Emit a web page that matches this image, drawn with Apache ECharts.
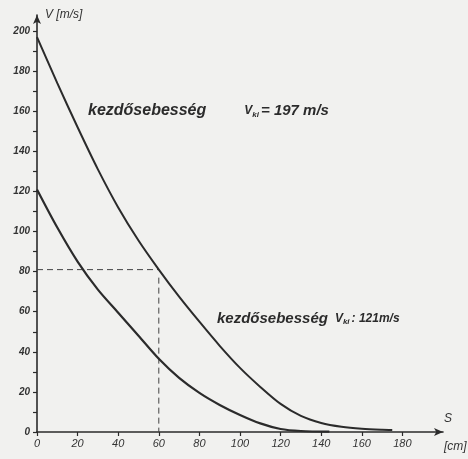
<!DOCTYPE html>
<html>
<head>
<meta charset="utf-8">
<script src="https://cdn.jsdelivr.net/npm/echarts@6/dist/echarts.min.js"></script>
<style>
  html, body { margin: 0; padding: 0; background: #f1f1ef; }
  #chart { width: 468px; height: 459px; }
</style>
</head>
<body>
<div id="chart"></div>
<script>
// distance along the path, cm
const sUpper = [0, 10, 20, 30, 40, 50, 60, 70, 80, 90, 100, 110, 120, 130, 140, 150, 160, 170, 175];
// speed for launch velocity 197 m/s
const vUpper = [197, 174, 152, 131, 112, 95.5, 81, 67.5, 55, 43, 32, 22.5, 14, 8, 4.5, 2.6, 1.6, 1.1, 1];

const sLower = [0, 10, 20, 30, 40, 50, 60, 70, 80, 90, 100, 110, 120, 130, 144];
// speed for launch velocity 121 m/s
const vLower = [121, 102, 85, 71, 59.5, 48, 36.5, 27, 19.5, 13.5, 8.5, 4.3, 1.5, 0.5, 0.2];

// reading guide at s = 60 cm
const guideS = 60;
const guideV = 81;

const xTickLabels = [0, 20, 40, 60, 80, 100, 120, 140, 160, 180];
const yTickLabels = [0, 20, 40, 60, 80, 100, 120, 140, 160, 180, 200];
const yMinorTicks = [0, 10, 20, 30, 40, 50, 60, 70, 80, 90, 100, 110, 120, 130, 140, 150, 160, 170, 180, 190, 200];

const ink = '#2b2b2b';
const hand = '"Liberation Sans", "DejaVu Sans", sans-serif';

const pair = (xs, ys) => xs.map((x, i) => [x, ys[i]]);

const chart = echarts.init(document.getElementById('chart'), null, { renderer: 'canvas' });

const labelRich = (big, gap, tail) => ({
  a: { fill: ink, font: 'italic bold ' + big + 'px ' + hand },
  gap: { width: gap },
  v: { fill: ink, font: 'italic bold 12px ' + hand },
  s: { fill: ink, font: 'italic bold 8px ' + hand, verticalAlign: 'bottom', padding: [4, 2, 0, 0] },
  b: { fill: ink, font: 'italic bold ' + tail + 'px ' + hand }
});

chart.setOption({
  backgroundColor: '#f1f1ef',
  animation: false,
  grid: { left: 37, right: 25, top: 15, bottom: 27, containLabel: false },
  xAxis: {
    type: 'value',
    min: 0,
    max: 200,
    splitLine: { show: false },
    axisLine: { onZero: false, symbol: ['none', 'arrow'], symbolSize: [6, 9], lineStyle: { color: ink, width: 1.6 } },
    axisTick: { customValues: xTickLabels, length: 4, lineStyle: { color: ink, width: 1.2 } },
    axisLabel: {
      customValues: xTickLabels,
      color: '#333', fontSize: 11, fontStyle: 'italic', fontFamily: hand, margin: 6
    }
  },
  yAxis: {
    type: 'value',
    min: 0,
    max: 208,
    splitLine: { show: false },
    axisLine: { onZero: false, symbol: ['none', 'arrow'], symbolSize: [6, 9], lineStyle: { color: ink, width: 1.6 } },
    axisTick: { customValues: yMinorTicks, length: 4, lineStyle: { color: ink, width: 1.2 } },
    axisLabel: {
      customValues: yTickLabels,
      color: '#333', fontSize: 10, fontStyle: 'italic', fontWeight: 'bold', fontFamily: hand, margin: 7
    }
  },
  series: [
    {
      type: 'line', data: pair(sUpper, vUpper), smooth: 0.3, showSymbol: false,
      lineStyle: { color: ink, width: 2 }, z: 3
    },
    {
      type: 'line', data: pair(sLower, vLower), smooth: 0.3, showSymbol: false,
      lineStyle: { color: ink, width: 2.2 }, z: 3
    },
    {
      type: 'line', data: [[0, guideV], [guideS, guideV]], showSymbol: false,
      lineStyle: { color: '#444', width: 1, type: [6, 4] }, z: 2
    },
    {
      type: 'line', data: [[guideS, guideV - 4], [guideS, 0]], showSymbol: false,
      lineStyle: { color: '#444', width: 1, type: [6, 4] }, z: 2
    }
  ],
  graphic: [
    {
      type: 'text', left: 45, top: 9,
      style: { text: 'V [m/s]', fill: '#333', font: 'italic 12px ' + hand }
    },
    {
      type: 'text', left: 444, top: 413,
      style: { text: 'S', fill: '#333', font: 'italic 12px ' + hand }
    },
    {
      type: 'text', left: 444, top: 441,
      style: { text: '[cm]', fill: '#333', font: 'italic 12px ' + hand }
    },
    {
      type: 'text', left: 88, top: 103,
      style: {
        text: '{a|kezdősebesség}{gap|}{v|V}{s|ki}{b|= ' + vUpper[0] + ' m/s}',
        rich: labelRich(16, 38, 15)
      }
    },
    {
      type: 'text', left: 217, top: 311,
      style: {
        text: '{a|kezdősebesség}{gap|}{v|V}{s|ki}{b|: ' + vLower[0] + 'm/s}',
        rich: labelRich(15, 7, 12)
      }
    }
  ]
});
</script>
</body>
</html>
